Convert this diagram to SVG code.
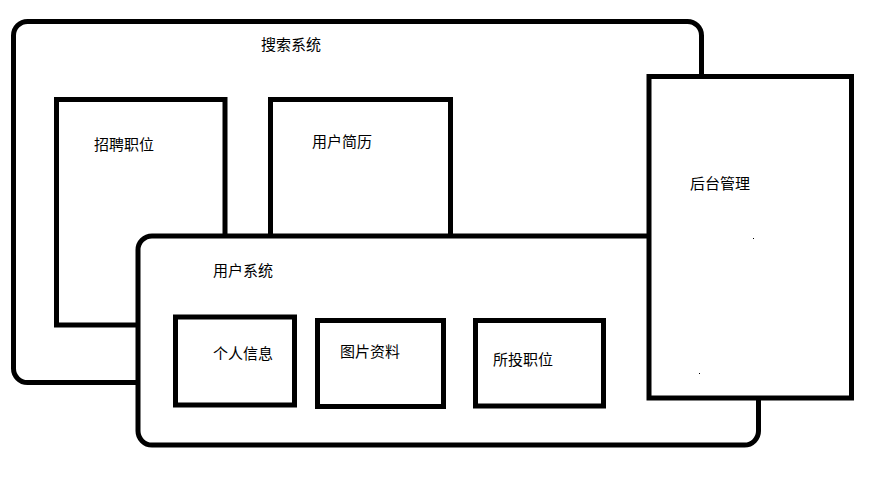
<svg xmlns="http://www.w3.org/2000/svg" width="872" height="487" viewBox="0 0 872 487">
<style>
.box{fill:#fff;stroke:#000;stroke-width:5}
.lbl{font-family:"Noto Sans CJK SC","Noto Sans",sans-serif;font-size:15px;fill:#000}
</style>
<rect x="0" y="0" width="872" height="487" fill="#fff"/>
<g id="search-system">
<rect class="box" x="13.5" y="21.5" width="688" height="361" rx="14"/>
<text class="lbl" x="261" y="50">搜索系统</text>
</g>
<g id="job-postings">
<rect class="box" x="56.5" y="99.5" width="168.5" height="225.5"/>
<text class="lbl" x="94" y="150">招聘职位</text>
</g>
<g id="user-resume">
<rect class="box" x="270.5" y="99.5" width="180" height="140"/>
<text class="lbl" x="312" y="147">用户简历</text>
</g>
<g id="user-system">
<rect class="box" x="138" y="236" width="620.5" height="209" rx="14"/>
<text class="lbl" x="213" y="276">用户系统</text>
</g>
<g id="personal-info">
<rect class="box" x="175.5" y="317" width="119" height="88"/>
<text class="lbl" x="213" y="359">个人信息</text>
</g>
<g id="picture-data">
<rect class="box" x="317.5" y="320.5" width="126" height="86"/>
<text class="lbl" x="340" y="357">图片资料</text>
</g>
<g id="applied-jobs">
<rect class="box" x="475.5" y="320.5" width="128" height="85.5"/>
<text class="lbl" x="493" y="365">所投职位</text>
</g>
<g id="admin">
<rect class="box" x="649" y="76.5" width="202.5" height="321.5"/>
<text class="lbl" x="690" y="189">后台管理</text>
<rect x="753" y="238" width="1" height="1" fill="#000"/>
<rect x="699" y="373" width="1" height="1" fill="#000"/>
</g>
</svg>
